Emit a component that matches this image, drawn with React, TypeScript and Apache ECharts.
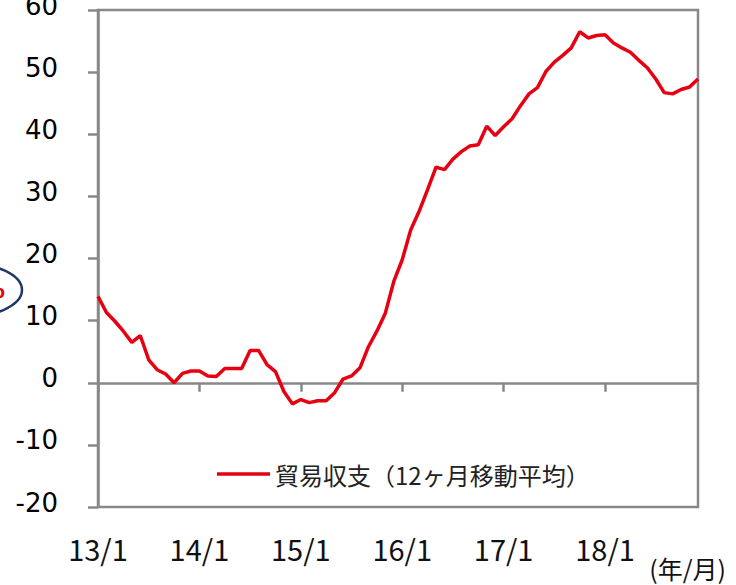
import React, { useEffect, useRef } from "react";
import * as echarts from "echarts";

const years = ["13", "14", "15", "16", "17", "18"];
const months = ["1", "2", "3", "4", "5", "6", "7", "8", "9", "10", "11", "12"];
const categories: string[] = [];
years.forEach((y) => months.forEach((m) => categories.push(`${y}/${m}`)));

const seriesName = "貿易収支（12ヶ月移動平均）";
const tradeBalance = [
  13.9, 11.3, 9.9, 8.3, 6.5, 7.6, 3.7, 2.1, 1.4, 0.0, 1.5, 1.9,
  1.9, 1.1, 1.0, 2.3, 2.3, 2.3, 5.2, 5.2, 2.9, 1.8, -1.4, -3.4,
  -2.7, -3.2, -2.9, -2.9, -1.6, 0.6, 1.1, 2.4, 5.8, 8.3, 11.2, 16.3,
  19.8, 24.6, 27.6, 31.1, 34.7, 34.3, 36.0, 37.2, 38.1, 38.3, 41.3, 39.8,
  41.2, 42.5, 44.6, 46.5, 47.5, 50.1, 51.6, 52.7, 53.9, 56.5, 55.5, 55.9,
  56.0, 54.7, 53.9, 53.2, 51.9, 50.7, 48.9, 46.7, 46.5, 47.2, 47.6, 48.9,
];
const yMin = -20;
const yMax = 60;
const yStep = 10;
const unitLabel = "(年/月)";

export default function App() {
  const ref = useRef<HTMLDivElement>(null);
  useEffect(() => {
    if (!ref.current) return;
    const chart = echarts.init(ref.current, null, { renderer: "svg" });
    const axisColor = "#888888";
    chart.setOption({
      animation: false,
      grid: {
        left: 98,
        right: 38,
        top: 10,
        bottom: 78,
        show: true,
        containLabel: false,
        outerBoundsMode: "none",
        borderColor: axisColor,
        borderWidth: 2.5,
        backgroundColor: "transparent",
      },
      legend: {
        data: [seriesName],
        left: 217,
        top: 462,
        padding: 0,
        icon: "rect",
        itemWidth: 53,
        itemHeight: 3.5,
        itemGap: 6,
        textStyle: {
          fontFamily: "Noto Sans CJK JP",
          fontSize: 24,
          color: "#222",
        },
      },
      xAxis: [
        {
          type: "category",
          data: categories,
          boundaryGap: false,
          axisLine: { onZero: true, lineStyle: { color: axisColor, width: 2.5 } },
          axisTick: { show: true, interval: 11, length: 9, lineStyle: { color: axisColor, width: 2.5 } },
          axisLabel: { show: false },
          splitLine: { show: false },
        },
        {
          type: "category",
          data: categories,
          boundaryGap: false,
          position: "bottom",
          axisLine: { show: false, onZero: false },
          axisTick: { show: false },
          axisLabel: {
            interval: 11,
            margin: 26,
            fontFamily: "Noto Sans CJK JP",
            fontSize: 29,
            color: "#111",
          },
          splitLine: { show: false },
        },
      ],
      yAxis: {
        type: "value",
        min: yMin,
        max: yMax,
        interval: yStep,
        axisLine: { show: true, onZero: false, lineStyle: { color: axisColor, width: 2.5 } },
        axisTick: { show: true, length: 10, lineStyle: { color: axisColor, width: 2.5 } },
        axisLabel: {
          margin: 40,
          fontFamily: "DejaVu Sans",
          fontSize: 26,
          color: "#000",
          verticalAlign: "bottom",
          lineHeight: 9,
        },
        splitLine: { show: false },
      },
      series: [
        {
          name: seriesName,
          type: "line",
          xAxisIndex: 0,
          data: tradeBalance,
          symbol: "none",
          lineStyle: { color: "#e60012", width: 3.5 },
          itemStyle: { color: "#e60012" },
        },
      ],
      graphic: [
        {
          type: "text",
          right: 10,
          top: 555,
          style: {
            text: unitLabel,
            fontFamily: "Noto Sans CJK JP",
            fontSize: 25,
            fill: "#111",
          },
        },
        {
          type: "ellipse",
          shape: { cx: -40, cy: 290, rx: 62, ry: 28 },
          style: { fill: "none", stroke: "#1f3864", lineWidth: 2.5 },
        },
        {
          type: "text",
          x: 5,
          y: 290,
          style: {
            text: "%",
            align: "right",
            verticalAlign: "middle",
            fontFamily: "DejaVu Sans",
            fontSize: 24,
            fontWeight: "bold",
            fill: "#e60012",
          },
        },
      ],
    });
    return () => chart.dispose();
  }, []);
  return <div ref={ref} style={{ width: 736, height: 585, position: "absolute", left: 0, top: 0 }} />;
}
